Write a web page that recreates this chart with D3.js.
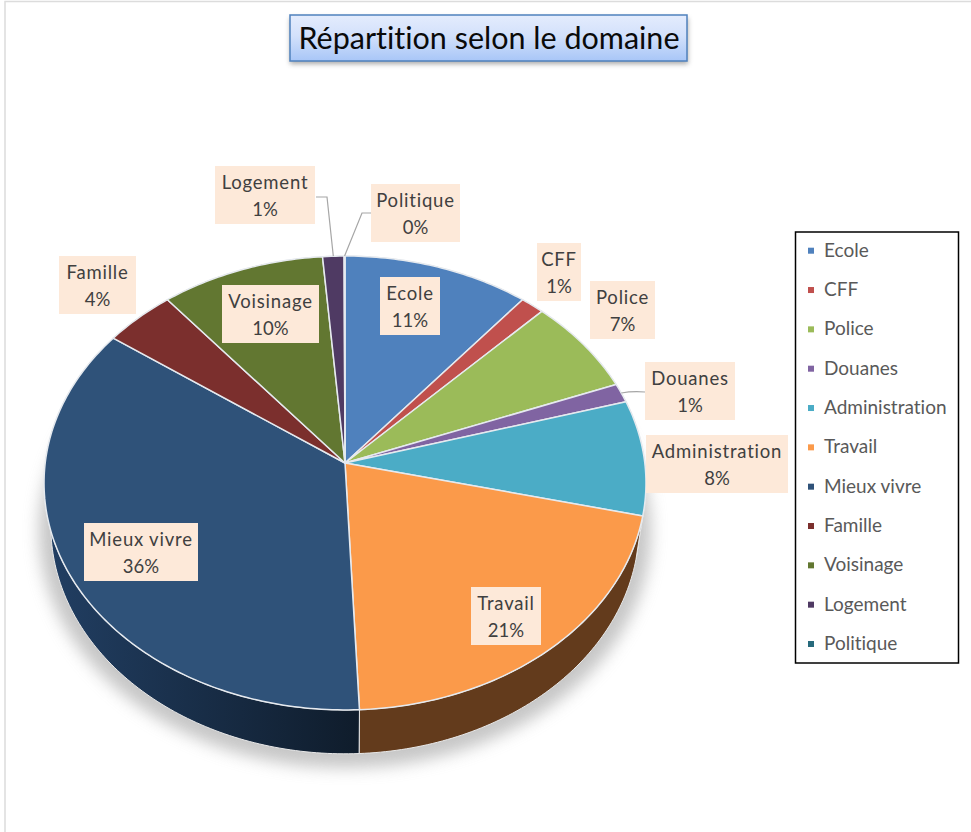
<!DOCTYPE html>
<html>
<head>
<meta charset="utf-8">
<script src="https://d3js.org/d3.v7.min.js"></script>
<style>
body { margin: 0; background: #fff; }
text { font-family: Lato, "Open Sans", sans-serif; font-variant-ligatures: none; }
</style>
</head>
<body>
<div id="chart"></div>
<script>
//Chart data
var categories = ["Ecole", "CFF", "Police", "Douanes", "Administration", "Travail", "Mieux vivre", "Famille", "Voisinage", "Logement", "Politique"];
var values = [10.9, 1.4, 6.85, 1.35, 8.2, 20.6, 35.6, 4.2, 9.6, 1.25, 0.05];
var colors = ["#4F81BD", "#C0504D", "#9BBB59", "#8064A2", "#4BACC6", "#FB9A4A", "#2F5279", "#7B2F2D", "#627731", "#4F3A63", "#276A7C"];
var wallColors = ["#2B4766", "#6A2C2A", "#566832", "#463759", "#295F6D", "#633B1C", "url(#wallGradient)", "#41181A", "#36411B", "#2B2036", "#153A44"];

//Label boxes, same order as categories: left, top, width
var labelBoxes = [
    [380, 277, 60], [537, 243, 44], [590, 281, 65], [645, 362, 90],
    [646, 435, 142], [471, 587, 70], [84, 523, 114], [59, 256, 77],
    [222, 285, 97], [215, 166, 100], [371, 184, 89]
];

var svgWidth = 971;
var svgHeight = 832;
var labelHeight = 58;

var svg = d3.select("#chart")
    .append("svg")
    .attr("width", svgWidth)
    .attr("height", svgHeight);

var defs = svg.append("defs");

var titleGradient = defs.append("linearGradient")
    .attr("id", "titleGradient")
    .attr("x1", 0).attr("y1", 0).attr("x2", 0).attr("y2", 1);
titleGradient.append("stop").attr("offset", "0%").attr("stop-color", "#E4ECFD");
titleGradient.append("stop").attr("offset", "45%").attr("stop-color", "#D3E1FB");
titleGradient.append("stop").attr("offset", "100%").attr("stop-color", "#A8C6F7");

var wallGradient = defs.append("linearGradient")
    .attr("id", "wallGradient")
    .attr("gradientUnits", "userSpaceOnUse")
    .attr("x1", 50).attr("y1", 0).attr("x2", 360).attr("y2", 0);
wallGradient.append("stop").attr("offset", "0%").attr("stop-color", "#213E62");
wallGradient.append("stop").attr("offset", "100%").attr("stop-color", "#0F1C2B");

defs.append("filter").attr("id", "pieShadow")
    .attr("x", "-10%").attr("y", "-10%").attr("width", "120%").attr("height", "120%")
    .append("feGaussianBlur").attr("stdDeviation", 8);
defs.append("filter").attr("id", "titleShadow")
    .attr("x", "-5%").attr("y", "-30%").attr("width", "110%").attr("height", "170%")
    .append("feGaussianBlur").attr("stdDeviation", 2.5);

//Page edge lines
svg.append("path")
    .attr("d", `M5,${svgHeight} V1.5 H${svgWidth}`)
    .attr("fill", "none")
    .attr("stroke", "#DCDCDC")
    .attr("stroke-width", 1.5);

//Title box
svg.append("rect")
    .attr("x", 290).attr("y", 18).attr("width", 398).attr("height", 46)
    .attr("fill", "#555").attr("opacity", 0.5)
    .attr("filter", "url(#titleShadow)");
svg.append("rect")
    .attr("x", 290).attr("y", 15).attr("width", 397).attr("height", 46)
    .attr("fill", "url(#titleGradient)")
    .attr("stroke", "#4F81BD")
    .attr("stroke-width", 1.5);
svg.append("text")
    .attr("x", 489).attr("y", 49)
    .attr("text-anchor", "middle")
    .attr("font-size", 30.5)
    .attr("fill", "#0A0A0A")
    .text("Répartition selon le domaine");

//Tilted disc: a circle seen in perspective
var tilt = 0.088;
function project(ring, angle) {
    var x = Math.sin(angle);
    var y = -Math.cos(angle);
    var w = 1 - tilt * y;
    return [ring.cx + ring.a * x / w, ring.cy + ring.b * y / w];
}
var topRing = {cx: 345, cy: 463, a: 299.8, b: 225.2};
var bottomRing = {cx: 345, cy: 506, a: 293, b: 226};

var pie = d3.pie().sort(null).value(d => d)(values);
var line = d3.line();

function arcPoints(ring, d) {
    var steps = Math.max(2, Math.ceil((d.endAngle - d.startAngle) * 60));
    return d3.range(steps + 1).map(i => project(ring, d.startAngle + (d.endAngle - d.startAngle) * i / steps));
}

//Shadow under the disc
svg.append("ellipse")
    .attr("cx", 345).attr("cy", 531).attr("rx", 306).attr("ry", 237)
    .attr("fill", "#A8A8A8")
    .attr("opacity", 0.65)
    .attr("filter", "url(#pieShadow)");

//Side wall
svg.selectAll(".wall")
    .data(pie)
    .enter()
    .append("path")
    .attr("class", "wall")
    .attr("d", d => line(arcPoints(topRing, d).concat(arcPoints(bottomRing, d).reverse())) + "Z")
    .attr("fill", (d, i) => wallColors[i])
    .attr("stroke", "#E8E8E8")
    .attr("stroke-width", 1);

//Top face
svg.selectAll(".slice")
    .data(pie)
    .enter()
    .append("path")
    .attr("class", "slice")
    .attr("d", d => line([[topRing.cx, topRing.cy]].concat(arcPoints(topRing, d))) + "Z")
    .attr("fill", (d, i) => colors[i])
    .attr("stroke", "#E6EAEF")
    .attr("stroke-width", 1.5)
    .attr("stroke-linejoin", "round");

//Leader lines
function midPoint(name) {
    var d = pie[categories.indexOf(name)];
    return project(topRing, (d.startAngle + d.endAngle) / 2);
}
var leaderLine = d3.line();
svg.append("path")
    .attr("d", leaderLine([[316, 197], [327, 197], midPoint("Logement")]))
    .attr("fill", "none").attr("stroke", "#A6A6A6").attr("stroke-width", 1.2);
svg.append("path")
    .attr("d", leaderLine([[372, 213], [362, 213], midPoint("Politique")]))
    .attr("fill", "none").attr("stroke", "#A6A6A6").attr("stroke-width", 1.2);
var douanesEnd = midPoint("Douanes");
svg.append("path")
    .attr("d", `M645,392 Q632,391 ${douanesEnd[0]},${douanesEnd[1]}`)
    .attr("fill", "none").attr("stroke", "#A6A6A6").attr("stroke-width", 1.2);

//Data labels
var labels = svg.selectAll(".dataLabel")
    .data(categories)
    .enter()
    .append("g")
    .attr("class", "dataLabel")
    .attr("transform", (d, i) => `translate(${labelBoxes[i][0]}, ${labelBoxes[i][1]})`);

labels.append("rect")
    .attr("width", (d, i) => labelBoxes[i][2])
    .attr("height", labelHeight)
    .attr("fill", "#FDE9D9");

labels.append("text")
    .attr("x", (d, i) => labelBoxes[i][2] / 2)
    .attr("y", 23)
    .attr("text-anchor", "middle")
    .attr("font-size", 18.5)
    .attr("letter-spacing", 0.8)
    .attr("fill", "#404040")
    .text(d => d);

labels.append("text")
    .attr("x", (d, i) => labelBoxes[i][2] / 2)
    .attr("y", 50)
    .attr("text-anchor", "middle")
    .attr("font-size", 18.5)
    .attr("fill", "#404040")
    .text((d, i) => Math.round(values[i]) + "%");

//Legend
svg.append("rect")
    .attr("x", 795.5).attr("y", 232).attr("width", 163).attr("height", 431)
    .attr("fill", "#fff")
    .attr("stroke", "#000")
    .attr("stroke-width", 1.5);

var legendScale = d3.scalePoint()
    .domain(categories)
    .range([250.7, 644]);

var legendItems = svg.selectAll(".legendItem")
    .data(categories)
    .enter()
    .append("g")
    .attr("class", "legendItem")
    .attr("transform", d => `translate(808, ${legendScale(d)})`);

legendItems.append("rect")
    .attr("y", -3)
    .attr("width", 6)
    .attr("height", 6)
    .attr("fill", (d, i) => colors[i]);

legendItems.append("text")
    .attr("x", 16)
    .attr("y", 6)
    .attr("font-size", 19)
    .attr("fill", "#595959")
    .text(d => d);
</script>
</body>
</html>
